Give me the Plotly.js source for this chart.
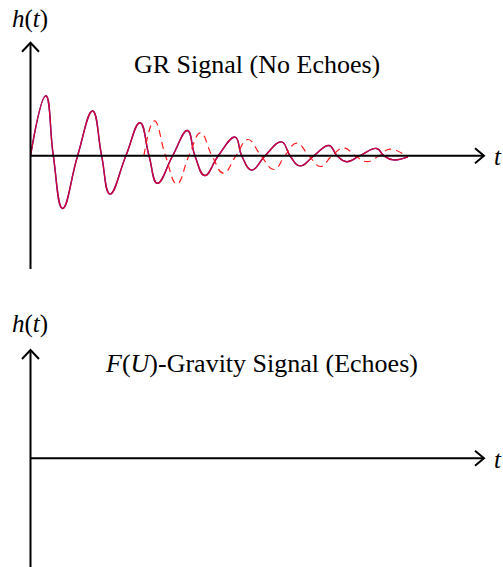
<!DOCTYPE html>
<html>
<head>
<meta charset="utf-8">
<script src="https://cdn.plot.ly/plotly-3.0.1.min.js"></script>
<style>
  html, body { margin: 0; padding: 0; background: #ffffff; }
  #chart { width: 503px; height: 567px; }
</style>
</head>
<body>
<div id="chart"></div>
<script>
// ---- Data ----
// GR ringdown signal (solid): times and strain values at peaks, troughs and zero crossings
var grTime = [0, 0.51, 0.76, 1.07, 1.57, 2.07, 2.37, 2.65, 3.18, 3.65, 3.95, 4.23, 4.74, 5.23, 5.48, 5.81, 6.26, 6.82, 7.04, 7.37, 7.82, 8.37, 8.65, 8.98, 9.45, 9.95, 10.22, 10.54, 10.98, 11.54, 11.78, 12.09, 12.58];
var grStrain = [0, 1.0, 0, -0.88, 0, 0.745, 0, -0.64, 0, 0.55, 0, -0.46, 0, 0.42, 0, -0.33, 0, 0.31, 0, -0.24, 0, 0.23, 0, -0.17, 0, 0.17, 0, -0.10, 0, 0.12, 0, -0.07, -0.02];

// Delayed (dashed) signal
var delayTime = [3.78, 4.13, 4.50, 4.88, 5.28, 5.67, 6.05, 6.43, 6.85, 7.25, 7.68, 8.12, 8.48, 8.87, 9.28, 9.67, 10.05, 10.45, 10.82, 11.22, 11.62, 11.98, 12.55];
var delayStrain = [0, 0.58, 0, -0.47, 0, 0.38, 0, -0.29, 0, 0.27, 0, -0.23, 0, 0.21, 0, -0.18, 0, 0.13, 0, -0.10, 0, 0.11, -0.02];

// Text labels
var topTitle = "GR Signal (No Echoes)";
var bottomTitle = "<i>F</i>(<i>U</i>)-Gravity Signal (Echoes)";
var yLabel = "<i>h</i>(<i>t</i>)";
var xLabel = "<i>t</i>";

// ---- Layout geometry (pixels of the 503x567 picture) ----
var W = 503, H = 567;
var X0 = 30.5, PX_PER_T = 30, PX_PER_H = 60;
var ZERO_TOP = 155.7, ZERO_BOT = 458.3, SPLIT = 283.5;
function tOf(px) { return (px - X0) / PX_PER_T; }
function px2paperX(px) { return px / W; }
function px2paperY(py) { return 1 - py / H; }

var xRange = [tOf(0), tOf(W)];
var yTopRange = [-(SPLIT - ZERO_TOP) / PX_PER_H, ZERO_TOP / PX_PER_H];
var yBotRange = [-(H - ZERO_BOT) / PX_PER_H, (ZERO_BOT - SPLIT) / PX_PER_H];

var font = "'Liberation Serif', 'Times New Roman', serif";

var traces = [
  { x: grTime, y: grStrain, xaxis: 'x', yaxis: 'y', mode: 'lines',
    line: { color: '#0000ff', width: 1.4, shape: 'spline', smoothing: 1.3 }, hoverinfo: 'skip' },
  { x: grTime, y: grStrain, xaxis: 'x', yaxis: 'y', mode: 'lines', opacity: 0.82,
    line: { color: '#ff0000', width: 1.4, shape: 'spline', smoothing: 1.3 }, hoverinfo: 'skip' },
  { x: delayTime, y: delayStrain, xaxis: 'x', yaxis: 'y', mode: 'lines',
    line: { color: '#ff1a1a', width: 1.2, shape: 'spline', smoothing: 1.3, dash: '7px,5px' }, hoverinfo: 'skip' }
];

// Axis arrows drawn as shapes
function axisShapes(yref, zeroPx, yTopPx, yBotPx) {
  var tipX = tOf(484);
  var back = 9 / PX_PER_T, half = 7.5 / PX_PER_H;
  var yTip = (zeroPx - yTopPx) / PX_PER_H;
  var yEnd = -(yBotPx - zeroPx) / PX_PER_H;
  var bx = 8.5 / PX_PER_T, by = 9 / PX_PER_H;
  var ln = { color: '#000000', width: 2 };
  return [
    { type: 'line', xref: 'x', yref: yref, x0: 0, x1: tipX - 0.02, y0: 0, y1: 0, line: ln },
    { type: 'path', xref: 'x', yref: yref, line: ln,
      path: 'M' + (tipX - back) + ',' + half +
            ' Q' + (tipX - back * 0.3) + ',' + (half * 0.3) + ' ' + tipX + ',0' +
            ' Q' + (tipX - back * 0.3) + ',' + (-half * 0.3) + ' ' + (tipX - back) + ',' + (-half) },
    { type: 'line', xref: 'x', yref: yref, x0: 0, x1: 0, y0: yEnd, y1: yTip - 0.01, line: ln },
    { type: 'path', xref: 'x', yref: yref, line: ln,
      path: 'M' + (-bx) + ',' + (yTip - by) +
            ' Q' + (-bx * 0.3) + ',' + (yTip - by * 0.3) + ' 0,' + yTip +
            ' Q' + (bx * 0.3) + ',' + (yTip - by * 0.3) + ' ' + bx + ',' + (yTip - by) }
  ];
}

var shapes = axisShapes('y', ZERO_TOP, 42.7, 269).concat(axisShapes('y2', ZERO_BOT, 350, 575));

function ann(text, cx, cy, size) {
  return { text: text, xref: 'paper', yref: 'paper', x: px2paperX(cx), y: px2paperY(cy),
    xanchor: 'center', yanchor: 'middle', showarrow: false,
    font: { family: font, size: size, color: '#000000' } };
}

var annotations = [
  ann(yLabel, 30, 19, 25),
  ann(topTitle, 256.7, 64, 26),
  ann(xLabel, 498, 157, 25),
  ann(yLabel, 30, 323.5, 25),
  ann(bottomTitle, 261.7, 363, 26),
  ann(xLabel, 498, 459, 25)
];

var layout = {
  width: W, height: H,
  margin: { l: 0, r: 0, t: 0, b: 0, pad: 0 },
  paper_bgcolor: '#ffffff', plot_bgcolor: '#ffffff',
  showlegend: false,
  xaxis: { visible: false, range: xRange, domain: [0, 1], fixedrange: true, anchor: 'y' },
  yaxis: { visible: false, range: yTopRange, domain: [1 - SPLIT / H, 1], fixedrange: true, anchor: 'x' },
  yaxis2: { visible: false, range: yBotRange, domain: [0, 1 - SPLIT / H], fixedrange: true, anchor: 'x' },
  shapes: shapes,
  annotations: annotations
};

Plotly.newPlot('chart', traces, layout, { staticPlot: true, displayModeBar: false });
</script>
</body>
</html>
